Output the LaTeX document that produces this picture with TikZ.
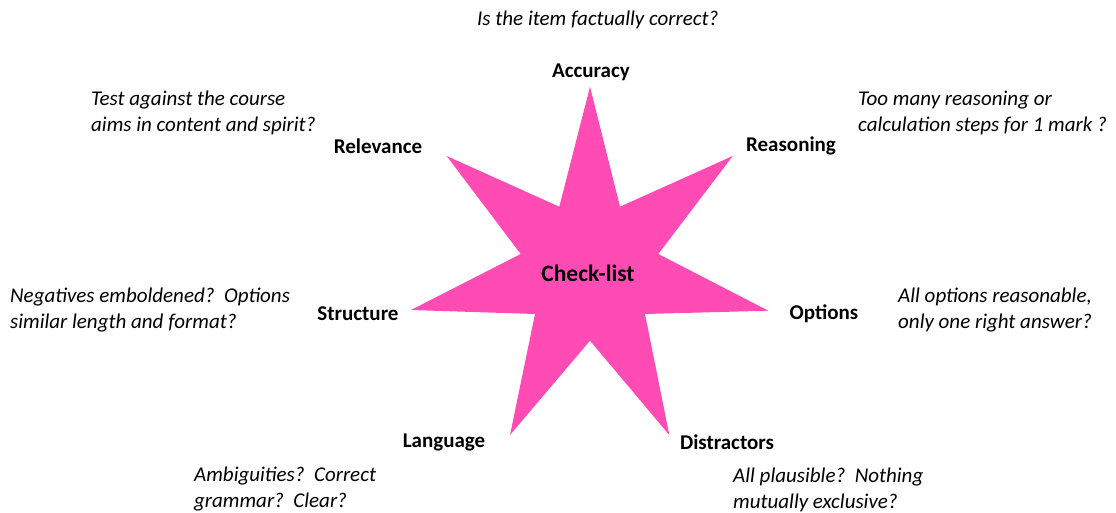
\documentclass[tikz,border=0pt]{standalone}
\usepackage{fontspec}
\setmainfont{Carlito}
\definecolor{starpink}{RGB}{255,76,180}
\begin{document}
\begin{tikzpicture}[x=1pt,y=-1pt,
  lbl/.style={font=\fontsize{21}{24}\selectfont\bfseries,inner sep=0pt},
  note/.style={font=\fontsize{21}{26}\selectfont\itshape,inner sep=0pt,align=left,anchor=west},
  centre/.style={font=\fontsize{23.5}{26}\selectfont\bfseries,inner sep=0pt}]
\useasboundingbox (0,0) rectangle (1116,513);
% star
\coordinate (t1) at (590,86.7);
\coordinate (i1) at (620,206.7);
\coordinate (t2) at (732.7,156);
\coordinate (i2) at (658.3,254);
\coordinate (t3) at (768.3,310.7);
\coordinate (i3) at (645,314);
\coordinate (t4) at (669.3,435);
\coordinate (i4) at (590,340.7);
\coordinate (t5) at (510,435);
\coordinate (i5) at (535,314);
\coordinate (t6) at (411,310);
\coordinate (i6) at (520.7,254);
\coordinate (t7) at (446.7,156);
\coordinate (i7) at (559.3,206.7);
\fill[starpink] (t1)--(i1)--(t2)--(i2)--(t3)--(i3)--(t4)--(i4)--(t5)--(i5)--(t6)--(i6)--(t7)--(i7)--cycle;
\node[centre] (check) at (588,273) {Check-list};
% labels
\node[lbl] (acc) at (591,72) {Accuracy};
\node[lbl] (rea) at (791,146) {Reasoning};
\node[lbl] (rel) at (378,146) {Relevance};
\node[lbl] (str) at (358,314) {Structure};
\node[lbl] (opt) at (824,314) {Options};
\node[lbl] (lan) at (444,442) {Language};
\node[lbl] (dis) at (727,442) {Distractors};
% notes
\node[note] (nacc) at (477,20) {Is the item factually correct?};
\node[note] (nrel) at (91,112.5) {Test against the course\\aims in content and spirit?};
\node[note] (nrea) at (858,112.5) {Too many reasoning or\\calculation steps for 1 mark ?};
\node[note] (nstr) at (10,310.5) {Negatives emboldened?\ \ Options\\similar length and format?};
\node[note] (nopt) at (898,310.5) {All options reasonable,\\only one right answer?};
\node[note] (nlan) at (194,489.5) {Ambiguities?\ \ Correct\\grammar?\ \ Clear?};
\node[note] (ndis) at (733,489.5) {All plausible?\ \ Nothing\\mutually exclusive?};
\end{tikzpicture}
\end{document}
